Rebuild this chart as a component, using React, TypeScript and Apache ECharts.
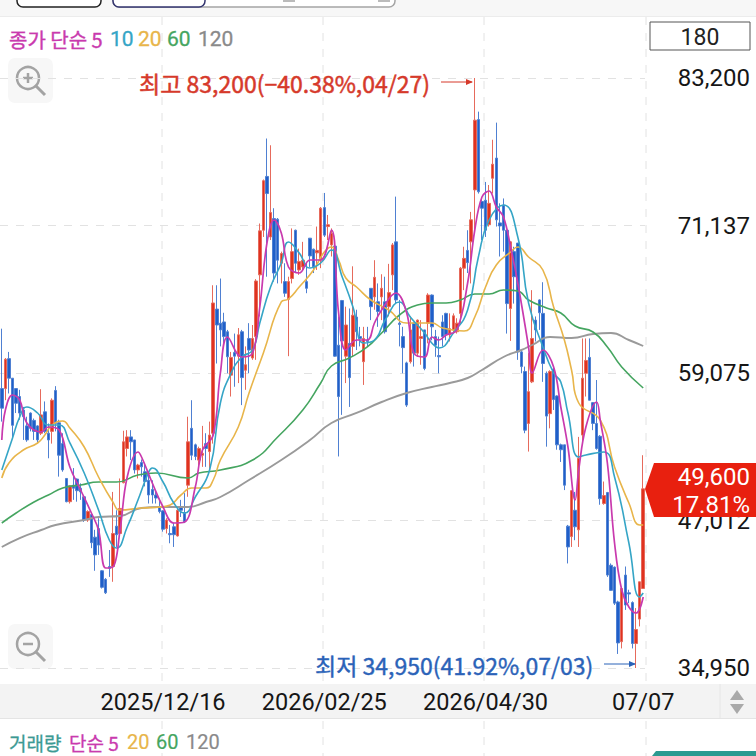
import React, { useEffect, useRef } from "react";
import * as echarts from "echarts";

const priceTicks = [34950, 47012, 59075, 71137, 83200];
const xTickIndex = [45, 90, 135, 179];
const xTickLabels = ["2025/12/16", "2026/02/25", "2026/04/30", "07/07"];

const opens = [57800,57800,60250,58650,57800,57150,56050,54750,55800,55200,54750,54150,55900,54150,54300,57650,55000,53300,50450,48550,49900,50400,49650,48950,47050,47500,45650,46350,42900,42200,43250,43250,46550,45950,50100,52900,53850,53600,51150,51750,51000,50300,49550,49100,48150,47800,46350,45950,46500,45750,48150,47600,49900,54550,53200,51950,52350,53300,52650,
54150,64300,63150,63250,62450,58900,60750,60450,62450,59300,61900,60300,62050,67100,70750,75150,70200,71700,71650,68050,66550,65100,66800,70750,67500,67750,66550,70100,69200,68900,68300,72600,71050,69550,69450,61350,65000,60450,61500,61250,63650,62050,60000,61750,66000,65300,64900,65300,64900,64500,67100,69800,63150,62050,59900,60000,63150,60700,61900,62600,63150,
65450,62050,60500,63250,63950,62200,62600,62450,63950,67650,69100,69800,74050,79800,73100,73200,71200,75000,76650,71350,72800,70750,64350,69000,69700,60800,59200,54950,58350,63400,65050,63950,59050,55750,59400,57200,53200,53200,46550,45700,47850,46250,54000,59050,60350,56650,54950,53900,48400,49300,43350,43200,40350,37100,42550,41100,40300,36950,38950,41450];
const closes = [56200,60200,58650,54800,56600,55800,55500,53600,54550,54300,53600,55650,54300,53600,56850,54950,52350,51150,48550,49850,49650,49450,49350,47050,47750,45200,44200,45000,41550,41100,43100,45950,45850,48000,53450,53850,53450,51150,51550,51400,50200,49100,49100,48850,47750,46300,47050,45850,45850,47850,47850,46900,53450,52350,52250,52900,52500,52900,54000,
64800,63000,62600,62050,60400,60350,60450,62200,58700,59750,60950,61900,66600,70700,74800,73750,72200,67250,68300,68850,65600,66550,69000,68050,68200,68300,66000,68650,67750,69100,72550,70350,71200,70500,60450,57150,61700,63000,58700,63800,62450,61900,61900,61650,64500,66900,64100,66000,62450,65650,69550,65050,63050,61150,56450,62600,60700,63400,62050,59450,65450,
62850,61350,60400,62050,62200,62700,63750,63150,67650,68450,68100,71600,79750,73900,72550,70750,72950,76150,71600,71100,70750,64750,69800,66950,60800,59600,54400,57550,61900,62600,64000,59850,55550,59200,56900,53200,52800,49900,44850,49450,46500,52100,58650,60100,56850,54950,52900,48800,49050,42550,41300,40250,37000,41450,40100,41000,36950,38100,42000,49600];
const lows = [55100,56850,57400,53750,55800,55250,53600,53450,54300,53600,53300,54000,54150,52100,53300,54300,50600,51000,48500,48400,48700,48550,48700,46900,46900,44750,42900,44200,41450,41000,42400,42000,44850,45800,50050,52250,51950,50850,50450,50600,49800,48400,48400,48400,47600,46100,45950,45150,44850,45700,47300,46800,48950,51950,51950,51300,51400,51400,51150,
53300,59850,61250,61250,59050,57150,57950,58250,56450,57700,59050,60150,60150,63700,70200,66950,69950,66550,66400,66400,65300,60450,66400,67250,67100,67500,65600,67750,67250,67500,67650,70200,69950,68600,60400,52250,55650,58250,56300,60400,60950,61250,58100,61250,63400,64250,62850,63400,62300,63700,65850,64750,61250,59050,56300,59850,59600,60400,59750,59300,61500,
61750,60400,59050,61250,61750,61650,62300,62300,63150,65850,67250,66400,70750,73750,69950,70200,71050,73750,71050,68600,69000,62300,61700,64750,60150,59050,54150,52650,58250,61650,62600,58350,53050,54550,56050,52800,51800,49500,43500,44850,45400,44850,53300,57150,56850,54400,52800,48300,48300,42400,41250,40100,36100,36550,39700,40250,36550,34950,38350,41450];
const highs = [62700,60300,60800,58650,57800,57700,56300,55500,55850,55350,54800,57750,56750,54950,57000,58000,55250,54150,50450,49900,51300,50450,50050,49100,47850,47600,46250,47200,42950,42300,44600,49350,47850,50450,54350,54400,54400,53600,51650,52000,51700,50850,50300,49500,48800,47850,47200,46650,46800,48000,48700,49250,55500,56850,53300,53050,54750,54150,55100,
66250,66250,66800,64000,62600,60800,62300,62750,62600,61250,63150,63000,66750,71300,74900,78250,77700,72550,71750,69000,68050,66950,70900,70800,69250,69800,68050,70100,69250,71050,72650,73800,72000,70900,69700,63700,65050,64500,64350,67800,64250,62850,62850,62850,66000,68300,66400,67150,66950,68000,69700,73500,65050,62850,60000,63700,63200,63450,63400,62600,65600,
65500,62600,62050,63800,64000,63950,63950,63550,67750,69400,70750,72250,83200,80450,73350,74700,74450,78150,79550,72950,73350,70800,69850,69400,69700,60950,59600,60700,65850,63700,65100,66500,59200,59300,59450,57250,53300,53200,46650,49500,49350,53850,61900,61900,61900,56700,58500,54000,50200,49350,43500,43250,40450,41600,43250,41350,40400,39850,42000,52350];

const ma5 = [[0,53596],[1,56049],[3,57276],[5,56867],[7,54985],[11,54250],[13,54659],[16,54414],[19,51388],[22,49507],[25,47626],[27,46236],[29,43128],[31,43210],[33,46236],[35,50570],[38,52614],[39,52206],[42,50079],[45,48117],[48,46808],[51,46890],[54,49752],[56,52778],[59,54005],[61,59075],[63,62020],[67,60384],[70,60711],[72,64473],[74,69706],[76,71587],[78,70524],[80,67744],[83,67253],[86,68317],[89,68317],[92,70770],[94,63982],[96,60956],[99,61774],[102,61774],[104,63164],[106,64227],[110,65617],[113,63982],[115,60711],[118,60384],[120,62020],[122,61774],[124,62183],[127,62592],[130,66435],[132,70770],[134,73468],[136,73959],[138,72651],[140,71833],[142,69380],[144,66435],[147,61201],[148,59075],[151,60956],[154,59566],[156,56295],[158,53023],[160,48689],[161,51143],[163,54658],[166,56703],[167,55231],[169,51715],[171,45173],[173,41329],[175,39939],[177,39448],[179,40757]];
const ma10 = [[0,51143],[3,53761],[5,55476],[7,56295],[10,55804],[13,54822],[16,54822],[19,53351],[23,50897],[27,47871],[30,45418],[32,44764],[35,46481],[38,48689],[41,50979],[42,51306],[45,50161],[48,48444],[51,47626],[54,48935],[58,51143],[61,56622],[64,59075],[67,60384],[70,60956],[72,63164],[75,66108],[78,68071],[80,69788],[83,68888],[86,67662],[89,68071],[92,69134],[95,66926],[98,64473],[101,61528],[104,61774],[107,63409],[111,64882],[114,63655],[118,62346],[120,61528],[122,61120],[126,62346],[130,64228],[133,68562],[136,71587],[140,72814],[144,70197],[147,64800],[151,61201],[154,59075],[156,58339],[158,55804],[161,52206],[163,52369],[168,52614],[171,50570],[175,45173],[178,40757],[179,41084]];
const ma20 = [[0,50488],[2,51715],[6,52778],[10,53351],[12,54005],[14,54822],[17,55150],[19,54577],[23,53023],[27,50570],[31,48525],[33,47871],[39,48035],[44,48117],[47,48280],[50,49098],[53,49670],[57,49670],[59,50325],[61,51960],[66,54659],[69,57440],[73,60711],[78,64882],[80,65127],[83,66108],[87,67498],[90,68970],[92,69380],[94,68316],[96,66844],[99,66108],[103,65045],[108,64227],[113,63164],[120,63164],[123,62755],[129,62510],[132,63655],[135,66108],[138,67908],[142,68970],[144,69380],[147,68562],[151,67498],[154,64473],[157,61774],[159,59321],[161,56622],[167,55231],[171,51388],[175,48444],[178,46645],[179,46645]];
const ma60 = [[0,46808],[4,47626],[9,48526],[13,49098],[17,49670],[22,49916],[27,50161],[32,50161],[38,50733],[43,50897],[52,50488],[55,50897],[61,51143],[70,51960],[77,53842],[84,56049],[89,58257],[92,59648],[97,60302],[102,61202],[106,62346],[111,63818],[116,64636],[120,64800],[124,64800],[128,65045],[132,65536],[136,65536],[140,65863],[144,65781],[147,65045],[152,64391],[156,63982],[160,62919],[165,62428],[169,61201],[173,59566],[179,57848]];
const ma120 = [[0,44845],[5,45581],[11,46236],[15,46645],[23,47053],[27,47299],[33,47381],[39,48035],[44,48117],[52,48117],[57,48526],[61,48935],[69,50325],[78,51960],[86,53596],[92,54985],[99,55804],[106,56704],[113,57440],[120,57930],[125,58258],[130,58666],[134,59320],[140,60384],[145,60956],[148,61365],[153,62020],[159,61937],[165,62265],[170,62347],[175,61774],[179,61283]];

const MAGENTA = "#c93aae";
const CYAN = "#35a5c6";
const YELLOW = "#e8b54a";
const GREEN = "#45a560";
const GREY = "#9a9a9a";
const FONT = "'Noto Sans CJK KR', Roboto, sans-serif";
const NUM = "Roboto, 'Noto Sans', sans-serif";

const categories = Array.from({ length: opens.length }, (_, i) => {
  const k = xTickIndex.indexOf(i);
  return k >= 0 ? xTickLabels[k] : String(i);
});

const lineSeries = (name: string, data: number[][], color: string, width = 1.6, smooth = 0.5) => ({
  name, type: "line", data, smooth, showSymbol: false, symbol: "none",
  lineStyle: { color, width }, silent: true, z: 5, clip: false,
});

const txt = (x: number, y: number, text: string, fill: string, size = 20, align = "left", font = FONT, bolder = 0, z = 30) => ({
  type: "text", x, y, z, silent: true,
  style: { text, fill, fontSize: size, fontFamily: font, align, verticalAlign: "middle", stroke: bolder ? fill : undefined, lineWidth: bolder },
});
const vline = (x: number) => ({
  type: "line", z: -1, silent: true,
  shape: { x1: x, y1: 17, x2: x, y2: 756 },
  style: { stroke: "#e2e2e2", lineWidth: 1, lineDash: [8, 8] },
});
const icon = (x: number, y: number, plus: boolean) => ({
  type: "group", z: 20, silent: true,
  children: [
    { type: "rect", shape: { x, y, width: 45, height: 45, r: 7 }, style: { fill: "#f7f7f7" } },
    { type: "circle", shape: { cx: x + 20, cy: y + 20, r: 11 }, style: { fill: "none", stroke: "#a3a3a3", lineWidth: 2.5 } },
    { type: "line", shape: { x1: x + 28, y1: y + 28, x2: x + 37, y2: y + 37 }, style: { stroke: "#a3a3a3", lineWidth: 3 } },
    { type: "line", shape: { x1: x + 15, y1: y + 20, x2: x + 25, y2: y + 20 }, style: { stroke: "#a3a3a3", lineWidth: 2.5 } },
    ...(plus ? [{ type: "line", shape: { x1: x + 20, y1: y + 15, x2: x + 20, y2: y + 25 }, style: { stroke: "#a3a3a3", lineWidth: 2.5 } }] : []),
  ],
});

export default function App() {
  const ref = useRef<HTMLDivElement>(null);
  useEffect(() => {
    const chart = echarts.init(ref.current!, null, { renderer: "svg" });
    chart.setOption({
      animation: false,
      backgroundColor: "#ffffff",
      grid: { left: 0, top: 78, width: 645, height: 590, containLabel: false },
      xAxis: {
        type: "category", data: categories, boundaryGap: true,
        axisLine: { show: false }, axisTick: { show: false }, splitLine: { show: false },
        axisLabel: {
          interval: (i: number) => xTickIndex.includes(i),
          margin: 22, fontFamily: NUM, fontSize: 23.5, color: "#161616", hideOverlap: false,
        },
      },
      yAxis: {
        type: "value", position: "right", min: priceTicks[0], max: priceTicks[4], scale: true,
        axisLine: { show: false },
        axisTick: { show: false, customValues: priceTicks },
        splitLine: { show: true, customValues: priceTicks, lineStyle: { color: "#e2e2e2", type: [8, 8], width: 1 } },
        axisLabel: {
          customValues: priceTicks, margin: 105, align: "right", fontFamily: NUM, fontSize: 24, color: "#161616",
          formatter: (v: number) => Math.round(v).toLocaleString("en-US"),
        },
      },
      series: [
        {
          type: "candlestick", barWidth: 3, silent: true, clip: false, z: 3,
          data: opens.map((o, i) => [o, closes[i], lows[i], highs[i]]),
          itemStyle: { color: "#e0321f", color0: "#1f5fc9", borderColor: "#e66a5c", borderColor0: "#4f80d2", borderWidth: 1 },
        },
        lineSeries("120", ma120, GREY, 1.9),
        lineSeries("60", ma60, GREEN),
        lineSeries("20", ma20, YELLOW),
        lineSeries("10", ma10, CYAN),
        lineSeries("5", ma5, MAGENTA, 1.7, 0.4),
      ],
      graphic: [
        { type: "rect", z: -2, silent: true, shape: { x: 0, y: 0, width: 756, height: 16 }, style: { fill: "#f7f7f7" } },
        { type: "line", z: -2, silent: true, shape: { x1: 0, y1: 16.5, x2: 756, y2: 16.5 }, style: { stroke: "#ececec", lineWidth: 1 } },
        { type: "rect", z: 1, silent: true, shape: { x: 17, y: -12, width: 84, height: 19, r: 6 }, style: { fill: "#fff", stroke: "#222", lineWidth: 1.5 } },
        { type: "rect", z: 1, silent: true, shape: { x: 113, y: -12, width: 282, height: 19, r: 6 }, style: { fill: "#fff", stroke: "#a5a5a5", lineWidth: 1.5 } },
        { type: "rect", z: 1, silent: true, shape: { x: 113, y: -12, width: 92, height: 19, r: 6 }, style: { fill: "#fff", stroke: "#33356f", lineWidth: 1.5 } },
        { type: "rect", z: 2, silent: true, shape: { x: 283, y: 0, width: 12, height: 2 }, style: { fill: "#bbb" } },
        { type: "rect", z: 2, silent: true, shape: { x: 378, y: 0, width: 12, height: 2 }, style: { fill: "#bbb" } },
        vline(162), vline(323), vline(484), vline(646),
        { type: "rect", z: -1, silent: true, shape: { x: 0, y: 684, width: 756, height: 34 }, style: { fill: "#f3f3f3" } },
        { type: "line", z: -1, silent: true, shape: { x1: 720, y1: 684, x2: 720, y2: 718 }, style: { stroke: "#e6e6e6", lineWidth: 1 } },
        { type: "line", z: -1, silent: true, shape: { x1: 0, y1: 718.5, x2: 756, y2: 718.5 }, style: { stroke: "#e4e4e4", lineWidth: 1 } },
        { type: "polygon", z: 20, silent: true, shape: { points: [[730, 700], [744, 700], [737, 690]] }, style: { fill: "#a9a9a9" } },
        { type: "polygon", z: 20, silent: true, shape: { points: [[730, 704], [744, 704], [737, 714]] }, style: { fill: "#a9a9a9" } },
        { type: "rect", z: 20, silent: true, shape: { x: 650, y: 22, width: 100, height: 28 }, style: { fill: "#fff", stroke: "#555", lineWidth: 1 } },
        txt(700, 37, "180", "#222", 23, "center", NUM),
        txt(9, 39, "종가 단순 5", MAGENTA, 20, "left", FONT, 0.4),
        txt(110, 39, "10", CYAN, 21, "left", NUM, 0.3),
        txt(138, 39, "20", YELLOW, 21, "left", NUM, 0.3),
        txt(167, 39, "60", GREEN, 21, "left", NUM, 0.3),
        txt(198, 39, "120", "#8a8a8a", 21, "left", NUM, 0.3),
        icon(8, 58, true),
        icon(8, 624, false),
        txt(139, 83, "최고 83,200(−40.38%,04/27)", "#d6392a", 23, "left", FONT, 0.5),
        { type: "line", z: 30, silent: true, shape: { x1: 441, y1: 82, x2: 472, y2: 82 }, style: { stroke: "#d6392a", lineWidth: 1 } },
        { type: "polygon", z: 30, silent: true, shape: { points: [[473, 82], [466, 79], [466, 85]] }, style: { fill: "#d6392a" } },
        txt(315, 665, "최저 34,950(41.92%,07/03)", "#2a62b8", 23, "left", FONT, 0.4),
        { type: "line", z: 30, silent: true, shape: { x1: 604, y1: 664, x2: 635, y2: 664 }, style: { stroke: "#2a62b8", lineWidth: 1 } },
        { type: "polygon", z: 30, silent: true, shape: { points: [[636, 664], [629, 661], [629, 667]] }, style: { fill: "#2a62b8" } },
        { type: "polygon", z: 40, silent: true, shape: { points: [[645, 489], [654, 463], [756, 463], [756, 517], [654, 517]] }, style: { fill: "#e8200f" } },
        txt(750, 477, "49,600", "#ffffff", 24, "right", NUM, 0, 41),
        txt(750, 505, "17.81%", "#ffffff", 24, "right", NUM, 0, 41),
        txt(9, 742, "거래량", "#3c9a94", 19, "left", FONT, 0.3),
        txt(69, 742, "단순 5", MAGENTA, 19, "left", FONT, 0.3),
        txt(127, 742, "20", YELLOW, 20, "left", NUM, 0.2),
        txt(156, 742, "60", GREEN, 20, "left", NUM, 0.2),
        txt(186, 742, "120", "#8a8a8a", 20, "left", NUM, 0.2),
        { type: "polygon", z: 20, silent: true, shape: { points: [[652, 756], [656, 751], [756, 751], [756, 756]] }, style: { fill: "#2b9a90" } },
      ],
    });
    return () => chart.dispose();
  }, []);
  return <div ref={ref} style={{ position: "absolute", left: 0, top: 0, width: 756, height: 756 }} />;
}
